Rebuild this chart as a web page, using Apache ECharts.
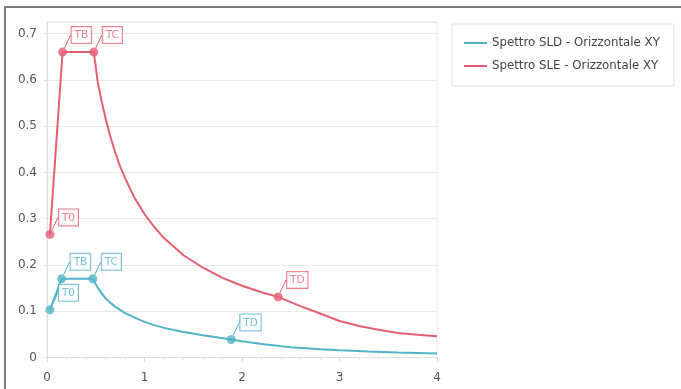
<!DOCTYPE html>
<html>
<head>
<meta charset="utf-8">
<script src="https://cdn.jsdelivr.net/npm/echarts@6/dist/echarts.min.js"></script>
<style>
html,body{margin:0;padding:0;background:#fff;}
#c{width:681px;height:389px;}
</style>
</head>
<body>
<div id="c"></div>
<script>
// ---- data ----
const xTicks = [0, 1, 2, 3, 4];
const yTicks = [0, 0.1, 0.2, 0.3, 0.4, 0.5, 0.6, 0.7];

const sldName = 'Spettro SLD - Orizzontale XY';
const sldX = [0.03, 0.15, 0.47, 0.52, 0.56, 0.6, 0.65, 0.7, 0.75, 0.8, 0.9, 1.0, 1.1, 1.2, 1.4, 1.6, 1.89, 2.0, 2.2, 2.5, 2.8, 3.0, 3.3, 3.6, 4.0];
const sldY = [0.103, 0.17, 0.17, 0.151, 0.139, 0.128, 0.118, 0.11, 0.103, 0.096, 0.086, 0.077, 0.07, 0.064, 0.055, 0.048, 0.039, 0.035, 0.029, 0.022, 0.018, 0.0155, 0.0128, 0.0107, 0.0085];
const sldKeyNames = ['T0', 'TB', 'TC', 'TD'];
const sldKeyX = [0.03, 0.15, 0.47, 1.89];
const sldKeyY = [0.103, 0.17, 0.17, 0.039];

const sleName = 'Spettro SLE - Orizzontale XY';
const sleX = [0.03, 0.16, 0.48, 0.52, 0.56, 0.6, 0.65, 0.7, 0.75, 0.8, 0.9, 1.0, 1.1, 1.2, 1.4, 1.6, 1.8, 2.0, 2.2, 2.37, 2.6, 2.8, 3.0, 3.2, 3.4, 3.6, 3.8, 4.0];
const sleY = [0.266, 0.66, 0.66, 0.596, 0.554, 0.517, 0.477, 0.443, 0.413, 0.388, 0.344, 0.31, 0.282, 0.258, 0.221, 0.194, 0.172, 0.155, 0.141, 0.131, 0.111, 0.095, 0.079, 0.068, 0.06, 0.053, 0.049, 0.046];
const sleKeyNames = ['T0', 'TB', 'TC', 'TD'];
const sleKeyX = [0.03, 0.16, 0.48, 2.37];
const sleKeyY = [0.266, 0.66, 0.66, 0.131];

const blue = '#52b3c8';
const red = '#e55e73';
const FONT = 'DejaVu Sans';

function pairs(xs, ys) { return xs.map((x, i) => [x, ys[i]]); }
function keyData(names, xs, ys) { return names.map((n, i) => ({ name: n, value: [xs[i], ys[i]] })); }

function keySeries(name, color, names, xs, ys) {
  return {
    name: name,
    type: 'scatter',
    data: keyData(names, xs, ys),
    symbol: 'circle',
    symbolSize: 9,
    itemStyle: { color: color },
    z: 5,
    label: {
      show: true,
      formatter: '{b}',
      position: 'inside',
      align: 'left',
      verticalAlign: 'bottom',
      color: color,
      fontFamily: FONT,
      fontSize: 10.5,
      backgroundColor: '#fff',
      borderColor: color,
      borderWidth: 1,
      padding: [3, 3, 2, 3]
    },
    labelLayout: { dx: 9, dy: -9 },
    labelLine: { show: true, lineStyle: { color: color, width: 1 } },
    emphasis: { disabled: true },
    tooltip: { show: false }
  };
}

const chart = echarts.init(document.getElementById('c'), null, { renderer: 'canvas' });
chart.setOption({
  animation: false,
  textStyle: { fontFamily: FONT },
  graphic: [
    { type: 'line', shape: { x1: 4, y1: 7, x2: 681, y2: 7 }, style: { stroke: '#7a7a7a', lineWidth: 2 }, z: 100 },
    { type: 'line', shape: { x1: 5, y1: 6, x2: 5, y2: 389 }, style: { stroke: '#7a7a7a', lineWidth: 2 }, z: 100 }
  ],
  grid: {
    left: 47, right: 244, top: 22, bottom: 31.5,
    show: true, borderColor: '#e6e6e6', borderWidth: 1, backgroundColor: 'transparent'
  },
  legend: {
    orient: 'vertical',
    left: 452, top: 24,
    data: [sldName, sleName],
    icon: 'rect',
    itemWidth: 23, itemHeight: 2,
    itemGap: 9,
    padding: [12, 14, 13, 12],
    borderColor: '#e3e3e3', borderWidth: 1,
    backgroundColor: '#fff',
    textStyle: { fontFamily: FONT, fontSize: 11.8, color: '#444', lineHeight: 14 }
  },
  xAxis: {
    type: 'value',
    min: 0, max: 4, interval: 1,
    axisLine: { show: true, lineStyle: { color: '#e0e0e0' } },
    axisTick: { show: true, length: 4, lineStyle: { color: '#d8d8d8' } },
    minorTick: { show: true, splitNumber: 5, length: 2, lineStyle: { color: '#e2e2e2' } },
    splitLine: { show: false },
    axisLabel: { color: '#555', fontSize: 12, fontFamily: FONT, margin: 14,
      formatter: v => xTicks.includes(v) ? String(v) : '' }
  },
  yAxis: {
    type: 'value',
    min: 0, max: 0.725, interval: 0.1,
    axisLine: { show: true, lineStyle: { color: '#e0e0e0' } },
    axisTick: { show: true, length: 3, lineStyle: { color: '#e0e0e0' } },
    splitLine: { show: true, lineStyle: { color: '#e8e8e8' } },
    axisLabel: { color: '#555', fontSize: 12, fontFamily: FONT, margin: 10, showMaxLabel: false,
      formatter: v => { const t = yTicks.find(y => Math.abs(y - v) < 1e-6); return t === undefined ? '' : String(t); } }
  },
  series: [
    {
      name: sldName, type: 'line', data: pairs(sldX, sldY),
      showSymbol: false, symbol: 'none',
      lineStyle: { color: blue, width: 2 }, itemStyle: { color: blue }, z: 3
    },
    {
      name: sleName, type: 'line', data: pairs(sleX, sleY),
      showSymbol: false, symbol: 'none',
      lineStyle: { color: red, width: 2 }, itemStyle: { color: red }, z: 3
    },
    keySeries(sldName, blue, sldKeyNames, sldKeyX, sldKeyY),
    keySeries(sleName, red, sleKeyNames, sleKeyX, sleKeyY)
  ]
});
</script>
</body>
</html>
